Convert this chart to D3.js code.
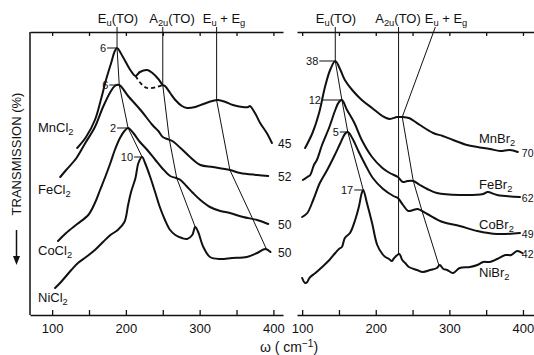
<!DOCTYPE html>
<html>
<head>
<meta charset="utf-8">
<script src="https://cdn.jsdelivr.net/npm/d3@7"></script>
<style>
  html, body { margin: 0; padding: 0; background: #fff; }
  svg { display: block; font-family: "Liberation Sans", Arial, sans-serif; }
</style>
</head>
<body>
<svg id="chart" width="534" height="355"></svg>
<script>
// ---- wavenumber axis ----
const tickValues = [100, 150, 200, 250, 300, 350, 400];
const tickLabels = [100, 200, 300, 400];

// ---- chlorides: [ω (cm^-1), transmission (arb. units)] ----
const mnCl2 = [[134,83.5],[146,89],[158,97.5],[166,107.5],[173,117.5],[180,126],[185,132],[188,133.5],
  [196,129],[206,122.5],[213,119.5],[219,121.5],[229,122.5],[236,121],[244,118],[250,115],[253,114.5],
  [260,111],[267,107.5],[276,104.5],[283,103.5],[294,104],[305,105.5],[317,107],[325,107.5],[335,106.5],
  [345,105],[358,104],[366,104],[368,104.5],[375,101],[382,96],[391,91],[398,86]];
const mnCl2Alt = [[213,119.5],[221,115.5],[229,113.5],[242,114],[250,115]];
const feCl2 = [[111,69],[119,72.5],[133,78.5],[145,86],[158,94],[169,104],[179,111.5],[185,114.5],[191,115],
  [203,109.5],[221,102],[236,95],[244,92],[250,89],[256,88],[263,87],[274,83.5],[287,79],[301,75],[318,74],
  [341,72.5],[355,71],[378,70],[393,69.5]];
const coCl2 = [[108,37],[119,41],[134,45.5],[149,50],[158,56],[165,62.5],[173,70],[179,76],[185,82.5],[192,88.5],
  [198,92],[203,93.5],[210,91],[219,86.5],[229,82.5],[240,77.5],[249,73.5],[260,69.5],[268,68.5],[274,67.5],
  [282,64.5],[291,61],[301,57.5],[314,54],[328,52],[341,51],[359,49],[378,47.5],[393,45.5]];
const niCl2 = [[104,13.5],[112,16.5],[126,22.5],[135,26],[146,29],[158,32.5],[169,36.5],[179,40],[189,42.5],
  [198,46.5],[203,55],[207,61.5],[213,68.5],[217,76],[222,79],[226,76],[233,69],[240,61],[246,54],[253,47.5],
  [260,42.5],[267,40],[276,38.5],[283,38],[290,40],[294,44],[298,41.5],[305,34],[314,29],[328,28],[344,28.5],
  [364,29],[378,31],[389,33],[396,31.5]];

// ---- bromides ----
const mnBr2 = [[104,83.5],[114,91],[123,101],[131,114],[138,122.5],[145,127],[152,122.5],[158,117.5],[168,112.5],
  [181,107.5],[195,103.5],[209,99.5],[219,98],[229,99],[236,99],[245,98.5],[252,97],[260,95],[278,91],[291,89.5],
  [305,87.5],[324,85],[338,84],[355,83],[369,82],[382,82.5],[393,81.5]];
const feBr2 = [[101,67.5],[107,69],[111,70],[116,75],[120,77.5],[127,85],[137,94],[145,102.5],[150,106.5],
  [154,107.5],[161,102.5],[171,96],[181,87.5],[195,79],[209,73.5],[219,71],[230,69],[237,66.5],[243,67],
  [251,67],[260,65],[270,63],[283,61],[314,60],[346,60.5],[352,61.5],[365,60],[396,59]];
const coBr2 = [[100,49],[107,51],[115,57.5],[124,66],[134,72.5],[143,79],[152,86],[158,90.5],[162,91.5],
  [168,88.5],[177,81.5],[186,75],[196,68.5],[210,63],[224,59.5],[230,58.5],[237,55],[244,52],[251,52.5],
  [257,53],[270,50.5],[291,46.5],[314,44.5],[338,42],[365,40.5],[396,41]];
const niBr2 = [[100,18.5],[104,16],[107,16.5],[109,18],[111,19],[118,21],[127,24],[137,27.5],[145,31],[150,33],
  [154,34],[158,38.5],[165,41],[172,47.5],[177,54],[181,61],[183,62.5],[188,56],[195,46],[202,35],[209,30.5],
  [213,29],[218,28],[222,27],[225,28.5],[232,30.5],[236,27.5],[240,26],[245,24],[256,22.5],[264,21.5],[274,22.5],
  [283,23.5],[287,25],[292,23],[297,22.5],[305,21],[314,23.5],[328,24],[338,25],[346,26.5],[355,26.5],[365,28],
  [376,30],[384,30],[392,32],[399,31]];

// ---- labels ----
const chlorideNames = ["MnCl", "FeCl", "CoCl", "NiCl"];
const bromideNames = ["MnBr", "FeBr", "CoBr", "NiBr"];
const chlorideEndTags = ["45", "52", "50", "50"];
const bromideEndTags = ["70", "62", "49", "42"];
const chloridePeakTags = ["6", "6", "2", "10"];
const bromidePeakTags = ["38", "12", "5", "17"];

// ---- mode assignments: ω where each mode meets each spectrum (top to bottom) ----
const chlorideEu = [188, 191, 203, 222];
const chlorideA2u = [250, 259, 269, 294];
const chlorideEuEg = [323, 341, 372, 391];
const chlorideModeTop = [188, 250, 323];
const bromideEu = [145, 154, 162, 183];
const bromideA2u = [231, 231, 231, 231];
const bromideEuEg = [236, 251, 263, 286];
const bromideModeTop = [145, 231, 281];

// ---- layout ----
const svg = d3.select("#chart");
const ink = "#111";
const yTop = 32, yBottom = 315;
const y = d3.scaleLinear().domain([0, 141.5]).range([yBottom, yTop]);

const panels = [
  {
    x: d3.scaleLinear().domain([70, 413]).range([30, 283]),
    series: [mnCl2, feCl2, coCl2, niCl2], alt: mnCl2Alt,
    names: chlorideNames, nameX: 38, nameY: [132, 194, 255, 302],
    ends: chlorideEndTags, endX: 278, endAnchor: "start", endSize: 12,
    peaks: chloridePeakTags, dash: [9, 9, 10, 7],
    modes: [chlorideEu, chlorideA2u, chlorideEuEg], modeTop: chlorideModeTop,
    modeLabelX: [118, 172, 224], leftAxis: true
  },
  {
    x: d3.scaleLinear().domain([93, 415]).range([297, 534]),
    series: [mnBr2, feBr2, coBr2, niBr2], alt: null,
    names: bromideNames, nameX: 479, nameY: [143, 189, 229, 277],
    ends: bromideEndTags, endX: 533.5, endAnchor: "end", endSize: 10.5,
    peaks: bromidePeakTags, dash: [15, 19, 7, 8],
    modes: [bromideEu, bromideA2u, bromideEuEg], modeTop: bromideModeTop,
    modeLabelX: [336, 398, 446], leftAxis: false
  }
];

// linear interpolation of a spectrum at wavenumber w
function valueAt(series, w) {
  for (let i = 0; i < series.length - 1; i++) {
    const [w0, v0] = series[i], [w1, v1] = series[i + 1];
    if (w >= w0 && w <= w1) return v0 + (v1 - v0) * (w - w0) / (w1 - w0);
  }
  return w < series[0][0] ? series[0][1] : series[series.length - 1][1];
}

// text with sub/superscript pieces: [text, shift] where shift>0 is subscript
function richText(g, x, yPos, parts, size, anchor) {
  const t = g.append("text").attr("x", x).attr("y", yPos)
    .attr("font-size", size).attr("fill", ink).attr("text-anchor", anchor || "start");
  let cur = 0;
  parts.forEach(([s, shift]) => {
    const sh = shift || 0;
    t.append("tspan").attr("dy", sh - cur)
      .attr("font-size", sh ? size * 0.72 : size).text(s);
    cur = sh;
  });
  return t;
}

const modeNames = [
  [["E"], ["u", 3], ["(TO)"]],
  [["A"], ["2u", 3], ["(TO)"]],
  [["E"], ["u", 3], [" + E"], ["g", 3]]
];

panels.forEach(p => {
  const g = svg.append("g");
  const x = p.x;

  // axes
  const bottom = d3.axisBottom(x).tickValues(tickValues).tickSizeInner(-5).tickSizeOuter(0)
    .tickPadding(9).tickFormat(d => tickLabels.includes(d) ? d : "");
  const top = d3.axisTop(x).tickValues(tickValues).tickSizeInner(-4).tickSizeOuter(0).tickFormat("");
  [g.append("g").attr("transform", `translate(0,${yBottom})`).call(bottom),
   g.append("g").attr("transform", `translate(0,${yTop})`).call(top)].forEach(a => {
    a.select(".domain").attr("stroke", ink).attr("stroke-width", 1.5);
    a.selectAll(".tick line").attr("stroke", ink).attr("stroke-width", 1.3);
    a.selectAll(".tick text").attr("fill", ink).attr("font-size", 13)
      .attr("font-family", "Liberation Sans, Arial, sans-serif");
  });
  if (p.leftAxis) {
    g.append("line").attr("x1", x.range()[0]).attr("x2", x.range()[0])
      .attr("y1", yTop).attr("y2", yBottom).attr("stroke", ink).attr("stroke-width", 1.5);
  }

  // spectra
  const line = d3.line().x(d => x(d[0])).y(d => y(d[1])).curve(d3.curveCatmullRom.alpha(0.5));
  p.series.forEach(s => {
    g.append("path").attr("d", line(s)).attr("fill", "none").attr("stroke", ink)
      .attr("stroke-width", 2).attr("stroke-linejoin", "round").attr("stroke-linecap", "round");
  });
  if (p.alt) {
    g.append("path").attr("d", line(p.alt)).attr("fill", "none").attr("stroke", ink)
      .attr("stroke-width", 1.8).attr("stroke-dasharray", "4,3");
  }

  // mode lines through the spectra
  p.modes.forEach((m, i) => {
    const pts = [[x(p.modeTop[i]), 27]].concat(
      m.map((w, k) => [x(w), y(valueAt(p.series[k], w))]));
    g.append("path").attr("d", d3.line()(pts)).attr("fill", "none")
      .attr("stroke", ink).attr("stroke-width", 1);
    richText(g, p.modeLabelX[i], 22.5, modeNames[i], 13, "middle");
  });

  // peak intensity tags at the E_u(TO) maxima
  p.modes[0].forEach((w, k) => {
    const px = x(w), py = y(valueAt(p.series[k], w));
    g.append("line").attr("x1", px - p.dash[k] - 1).attr("x2", px - 1)
      .attr("y1", py).attr("y2", py).attr("stroke", ink).attr("stroke-width", 1);
    g.append("text").attr("x", px - p.dash[k] - 2).attr("y", py + 4)
      .attr("text-anchor", "end").attr("font-size", 11).attr("fill", ink).text(p.peaks[k]);
  });

  // compound names and end values
  p.series.forEach((s, k) => {
    richText(g, p.nameX, p.nameY[k], [[p.names[k]], ["2", 3]], 13);
    const last = s[s.length - 1];
    g.append("text").attr("x", p.endX).attr("y", y(last[1]) + 5)
      .attr("text-anchor", p.endAnchor)
      .attr("font-size", p.endSize).attr("fill", ink).text(p.ends[k]);
  });
});

// y-axis title with arrow
svg.append("text").attr("transform", "translate(21,154) rotate(-90)")
  .attr("text-anchor", "middle").attr("font-size", 13).attr("fill", ink)
  .text("TRANSMISSION (%)");
svg.append("line").attr("x1", 16.5).attr("x2", 16.5).attr("y1", 230).attr("y2", 258)
  .attr("stroke", ink).attr("stroke-width", 1.5);
svg.append("path").attr("d", d3.line()([[13, 256], [20, 256], [16.5, 265]])).attr("fill", ink);

// x-axis title
richText(svg, 289, 352, [["ω ( cm"], ["−1", -5], [")"]], 14, "middle");
</script>
</body>
</html>
